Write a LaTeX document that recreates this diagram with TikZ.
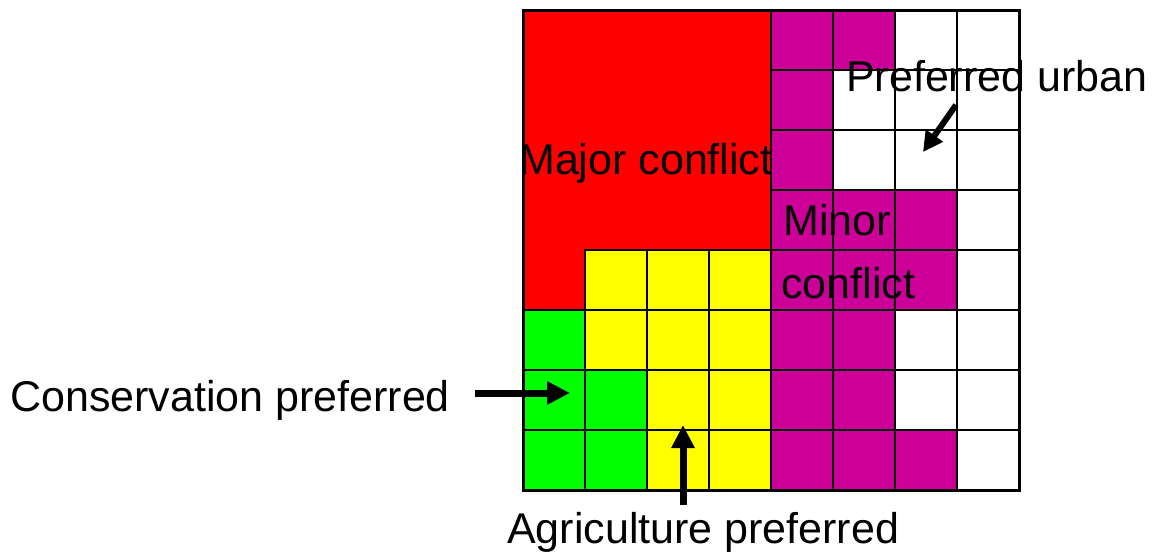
\documentclass[tikz,border=0pt]{standalone}
\usepackage{fontspec}
\setmainfont{Liberation Sans}
\usetikzlibrary{arrows.meta}
\definecolor{cR}{HTML}{FF0000}
\definecolor{cY}{HTML}{FFFF00}
\definecolor{cG}{HTML}{00FF00}
\definecolor{cM}{HTML}{CC0099}
\definecolor{cW}{HTML}{FFFFFF}
\tikzset{
  cellbox/.style={draw=black, line width=2pt},
  lbl/.style={inner sep=0pt, anchor=base west, font=\fontsize{43}{50}\selectfont},
  bigarrow/.style={line width=7pt, -{Triangle[length=23pt,width=22pt]}},
  smallarrow/.style={line width=6pt, -{Triangle[length=20pt,width=20pt]}},
}
\begin{document}
\begin{tikzpicture}[x=1pt,y=-1pt]
\useasboundingbox (0,0) rectangle (1153,554);
% cells
\foreach \row/\cols in {0/{R,R,R,R,M,M,W,W},1/{R,R,R,R,M,W,W,W},2/{R,R,R,R,M,W,W,W},3/{R,R,R,R,M,M,M,W},4/{R,Y,Y,Y,M,M,M,W},5/{G,Y,Y,Y,M,M,W,W},6/{G,G,Y,Y,M,M,W,W},7/{G,G,Y,Y,M,M,M,W}}{
  \foreach \c [count=\ci from 0] in \cols {
    \draw[cellbox, fill=c\c] ({523+62*\ci},{10+60*\row}) rectangle ({585+62*\ci},{70+60*\row});
  }
}
% major conflict block
\draw[cellbox, fill=cR] (523,10) -- (771,10) -- (771,250) -- (585,250) -- (585,310) -- (523,310) -- cycle;
% outer border
\draw[line width=3pt] (523,10) rectangle (1019,490);
% labels
\node[lbl] (major) at (519,174) {Major conflict};
\node[lbl] (minor) at (783,235) {Minor};
\node[lbl] (minor2) at (781,298) {conflict};
\node[lbl] (urban) at (846,91) {Preferred urban};
\node[lbl] (cons) at (10,411) {Conservation preferred};
\node[lbl] (agri) at (507,543) {Agriculture preferred};
% arrows
\coordinate (consTail) at (475,393);
\coordinate (consTip) at (570,393);
\coordinate (agriTail) at (683,505);
\coordinate (agriTip) at (683,425);
\coordinate (urbTail) at (956,105);
\coordinate (urbTip) at (923,152);
\draw[bigarrow] (consTail) -- (consTip);
\draw[bigarrow] (agriTail) -- (agriTip);
\draw[smallarrow] (urbTail) -- (urbTip);
\end{tikzpicture}
\end{document}
